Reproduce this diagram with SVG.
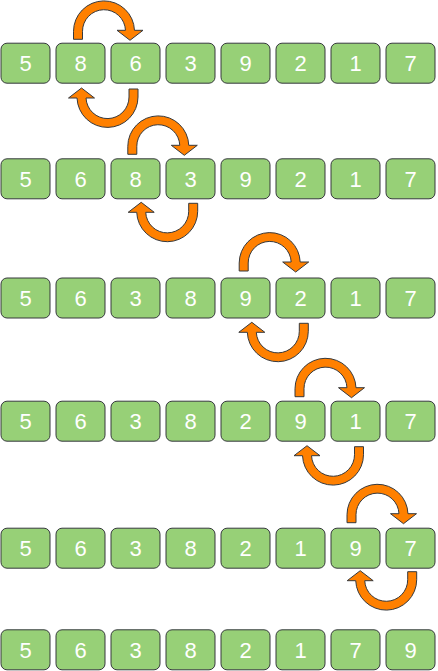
<svg xmlns="http://www.w3.org/2000/svg" xmlns:xlink="http://www.w3.org/1999/xlink" width="438" height="671" viewBox="0 0 438 671">
<style>
.box{fill:#97D077;stroke:#36393D;stroke-width:1}
.lbl{fill:#FFFFFF;font-family:"Liberation Sans",Arial,sans-serif;font-size:22px;text-anchor:middle}
.arr{fill:#FF8000;stroke:#36393D;stroke-width:1;stroke-linejoin:miter}
</style>
<defs>
<path id="uturn" d="M -30.5,8 L -30.5,0 A 30.5 30.5 0 0 1 30.48,-1 L 39,-1 L 26,9 L 13,-1 L 21.48,-1 A 21.5 21.5 0 0 0 -21.5,0 L -21.5,8 Z"/>
</defs>
<rect width="438" height="671" fill="#FFFFFF"/>
<g id="row1">
<g id="r1c1"><rect class="box" x="1" y="43.2" width="49" height="40" rx="6"/><text class="lbl" x="25.5" y="71">5</text></g>
<g id="r1c2"><rect class="box" x="56" y="43.2" width="49" height="40" rx="6"/><text class="lbl" x="80.5" y="71">8</text></g>
<g id="r1c3"><rect class="box" x="111" y="43.2" width="49" height="40" rx="6"/><text class="lbl" x="135.5" y="71">6</text></g>
<g id="r1c4"><rect class="box" x="166" y="43.2" width="49" height="40" rx="6"/><text class="lbl" x="190.5" y="71">3</text></g>
<g id="r1c5"><rect class="box" x="221" y="43.2" width="49" height="40" rx="6"/><text class="lbl" x="245.5" y="71">9</text></g>
<g id="r1c6"><rect class="box" x="276" y="43.2" width="49" height="40" rx="6"/><text class="lbl" x="300.5" y="71">2</text></g>
<g id="r1c7"><rect class="box" x="331" y="43.2" width="49" height="40" rx="6"/><text class="lbl" x="355.5" y="71">1</text></g>
<g id="r1c8"><rect class="box" x="386" y="43.2" width="49" height="40" rx="6"/><text class="lbl" x="410.5" y="71">7</text></g>
</g>
<g id="row2">
<g id="r2c1"><rect class="box" x="1" y="158.8" width="49" height="40" rx="6"/><text class="lbl" x="25.5" y="186.6">5</text></g>
<g id="r2c2"><rect class="box" x="56" y="158.8" width="49" height="40" rx="6"/><text class="lbl" x="80.5" y="186.6">6</text></g>
<g id="r2c3"><rect class="box" x="111" y="158.8" width="49" height="40" rx="6"/><text class="lbl" x="135.5" y="186.6">8</text></g>
<g id="r2c4"><rect class="box" x="166" y="158.8" width="49" height="40" rx="6"/><text class="lbl" x="190.5" y="186.6">3</text></g>
<g id="r2c5"><rect class="box" x="221" y="158.8" width="49" height="40" rx="6"/><text class="lbl" x="245.5" y="186.6">9</text></g>
<g id="r2c6"><rect class="box" x="276" y="158.8" width="49" height="40" rx="6"/><text class="lbl" x="300.5" y="186.6">2</text></g>
<g id="r2c7"><rect class="box" x="331" y="158.8" width="49" height="40" rx="6"/><text class="lbl" x="355.5" y="186.6">1</text></g>
<g id="r2c8"><rect class="box" x="386" y="158.8" width="49" height="40" rx="6"/><text class="lbl" x="410.5" y="186.6">7</text></g>
</g>
<g id="row3">
<g id="r3c1"><rect class="box" x="1" y="278" width="49" height="40" rx="6"/><text class="lbl" x="25.5" y="305.8">5</text></g>
<g id="r3c2"><rect class="box" x="56" y="278" width="49" height="40" rx="6"/><text class="lbl" x="80.5" y="305.8">6</text></g>
<g id="r3c3"><rect class="box" x="111" y="278" width="49" height="40" rx="6"/><text class="lbl" x="135.5" y="305.8">3</text></g>
<g id="r3c4"><rect class="box" x="166" y="278" width="49" height="40" rx="6"/><text class="lbl" x="190.5" y="305.8">8</text></g>
<g id="r3c5"><rect class="box" x="221" y="278" width="49" height="40" rx="6"/><text class="lbl" x="245.5" y="305.8">9</text></g>
<g id="r3c6"><rect class="box" x="276" y="278" width="49" height="40" rx="6"/><text class="lbl" x="300.5" y="305.8">2</text></g>
<g id="r3c7"><rect class="box" x="331" y="278" width="49" height="40" rx="6"/><text class="lbl" x="355.5" y="305.8">1</text></g>
<g id="r3c8"><rect class="box" x="386" y="278" width="49" height="40" rx="6"/><text class="lbl" x="410.5" y="305.8">7</text></g>
</g>
<g id="row4">
<g id="r4c1"><rect class="box" x="1" y="401.2" width="49" height="40" rx="6"/><text class="lbl" x="25.5" y="429">5</text></g>
<g id="r4c2"><rect class="box" x="56" y="401.2" width="49" height="40" rx="6"/><text class="lbl" x="80.5" y="429">6</text></g>
<g id="r4c3"><rect class="box" x="111" y="401.2" width="49" height="40" rx="6"/><text class="lbl" x="135.5" y="429">3</text></g>
<g id="r4c4"><rect class="box" x="166" y="401.2" width="49" height="40" rx="6"/><text class="lbl" x="190.5" y="429">8</text></g>
<g id="r4c5"><rect class="box" x="221" y="401.2" width="49" height="40" rx="6"/><text class="lbl" x="245.5" y="429">2</text></g>
<g id="r4c6"><rect class="box" x="276" y="401.2" width="49" height="40" rx="6"/><text class="lbl" x="300.5" y="429">9</text></g>
<g id="r4c7"><rect class="box" x="331" y="401.2" width="49" height="40" rx="6"/><text class="lbl" x="355.5" y="429">1</text></g>
<g id="r4c8"><rect class="box" x="386" y="401.2" width="49" height="40" rx="6"/><text class="lbl" x="410.5" y="429">7</text></g>
</g>
<g id="row5">
<g id="r5c1"><rect class="box" x="1" y="528.2" width="49" height="40" rx="6"/><text class="lbl" x="25.5" y="556">5</text></g>
<g id="r5c2"><rect class="box" x="56" y="528.2" width="49" height="40" rx="6"/><text class="lbl" x="80.5" y="556">6</text></g>
<g id="r5c3"><rect class="box" x="111" y="528.2" width="49" height="40" rx="6"/><text class="lbl" x="135.5" y="556">3</text></g>
<g id="r5c4"><rect class="box" x="166" y="528.2" width="49" height="40" rx="6"/><text class="lbl" x="190.5" y="556">8</text></g>
<g id="r5c5"><rect class="box" x="221" y="528.2" width="49" height="40" rx="6"/><text class="lbl" x="245.5" y="556">2</text></g>
<g id="r5c6"><rect class="box" x="276" y="528.2" width="49" height="40" rx="6"/><text class="lbl" x="300.5" y="556">1</text></g>
<g id="r5c7"><rect class="box" x="331" y="528.2" width="49" height="40" rx="6"/><text class="lbl" x="355.5" y="556">9</text></g>
<g id="r5c8"><rect class="box" x="386" y="528.2" width="49" height="40" rx="6"/><text class="lbl" x="410.5" y="556">7</text></g>
</g>
<g id="row6">
<g id="r6c1"><rect class="box" x="1" y="629.8" width="49" height="40" rx="6"/><text class="lbl" x="25.5" y="657.6">5</text></g>
<g id="r6c2"><rect class="box" x="56" y="629.8" width="49" height="40" rx="6"/><text class="lbl" x="80.5" y="657.6">6</text></g>
<g id="r6c3"><rect class="box" x="111" y="629.8" width="49" height="40" rx="6"/><text class="lbl" x="135.5" y="657.6">3</text></g>
<g id="r6c4"><rect class="box" x="166" y="629.8" width="49" height="40" rx="6"/><text class="lbl" x="190.5" y="657.6">8</text></g>
<g id="r6c5"><rect class="box" x="221" y="629.8" width="49" height="40" rx="6"/><text class="lbl" x="245.5" y="657.6">2</text></g>
<g id="r6c6"><rect class="box" x="276" y="629.8" width="49" height="40" rx="6"/><text class="lbl" x="300.5" y="657.6">1</text></g>
<g id="r6c7"><rect class="box" x="331" y="629.8" width="49" height="40" rx="6"/><text class="lbl" x="355.5" y="657.6">7</text></g>
<g id="r6c8"><rect class="box" x="386" y="629.8" width="49" height="40" rx="6"/><text class="lbl" x="410.5" y="657.6">9</text></g>
</g>
<g id="connectors">
<use class="arr" xlink:href="#uturn" href="#uturn" transform="translate(104,31.3)"/>
<use class="arr" xlink:href="#uturn" href="#uturn" transform="translate(107.5,97) rotate(180)"/>
<use class="arr" xlink:href="#uturn" href="#uturn" transform="translate(158.3,146.3)"/>
<use class="arr" xlink:href="#uturn" href="#uturn" transform="translate(167.2,211.3) rotate(180)"/>
<use class="arr" xlink:href="#uturn" href="#uturn" transform="translate(269.7,263)"/>
<use class="arr" xlink:href="#uturn" href="#uturn" transform="translate(277.8,331.3) rotate(180)"/>
<use class="arr" xlink:href="#uturn" href="#uturn" transform="translate(325.5,388.7)"/>
<use class="arr" xlink:href="#uturn" href="#uturn" transform="translate(333,454.7) rotate(180)"/>
<use class="arr" xlink:href="#uturn" href="#uturn" transform="translate(377.5,514.7)"/>
<use class="arr" xlink:href="#uturn" href="#uturn" transform="translate(386.2,579.7) rotate(180)"/>
</g>
</svg>
